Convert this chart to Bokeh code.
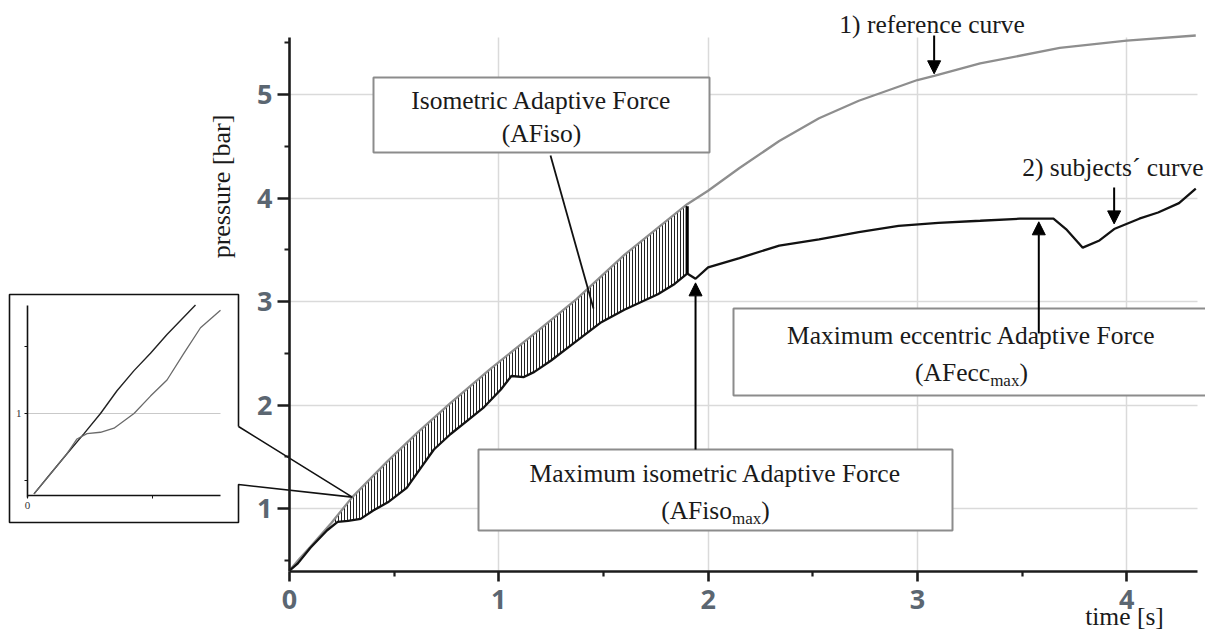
import math
from bokeh.plotting import figure
from bokeh.models import (Range1d, LinearAxis, FixedTicker, Grid, Arrow, NormalHead)
from bokeh.core.properties import value
from bokeh.embed import file_html
from bokeh.resources import INLINE

# ---------------- data ----------------
# 1) reference curve: time [s] / pressure [bar]
REF_T = [0.00, 0.05, 0.10, 0.20, 0.30, 0.47, 0.61, 0.77, 0.96, 1.17, 1.37, 1.60,
         1.90, 2.00, 2.15, 2.34, 2.53, 2.72, 3.00, 3.08, 3.30, 3.68, 4.00, 4.33]
REF_P = [0.40, 0.52, 0.63, 0.86, 1.11, 1.46, 1.73, 2.02, 2.35, 2.69, 3.02, 3.45,
         3.94, 4.07, 4.29, 4.55, 4.77, 4.94, 5.14, 5.18, 5.30, 5.45, 5.52, 5.57]

# 2) subjects' curve
SUB_T = [0.00, 0.04, 0.10, 0.18, 0.23, 0.28, 0.34, 0.40, 0.47, 0.56,
         0.63, 0.69, 0.77, 0.85, 0.93, 1.01, 1.06, 1.12, 1.17, 1.25,
         1.36, 1.49, 1.60, 1.76, 1.84, 1.90, 1.94, 2.00, 2.15, 2.34,
         2.53, 2.72, 2.91, 3.10, 3.30, 3.49, 3.58, 3.65, 3.71, 3.79,
         3.87, 3.94, 4.06, 4.15, 4.25, 4.33]
SUB_P = [0.40, 0.47, 0.62, 0.79, 0.87, 0.88, 0.90, 0.98, 1.06, 1.20,
         1.40, 1.57, 1.72, 1.85, 1.98, 2.15, 2.28, 2.27, 2.32, 2.43,
         2.60, 2.80, 2.92, 3.07, 3.17, 3.27, 3.22, 3.33, 3.42, 3.54,
         3.60, 3.67, 3.73, 3.76, 3.78, 3.80, 3.80, 3.80, 3.70, 3.52,
         3.59, 3.70, 3.80, 3.86, 3.95, 4.09]

X_TICKS = [0, 1, 2, 3, 4]
X_MINOR = [0.5, 1.5, 2.5, 3.5]
Y_TICKS = [1, 2, 3, 4, 5]
Y_MINOR = [0.5, 1.5, 2.5, 3.5, 4.5, 5.5]
X_GRID = [1, 2, 3, 4]
Y_GRID = [1, 2, 3, 4, 5]

T_HATCH_START = 0.20     # AFiso area starts
T_ISO_MAX = 1.90         # AFiso area ends (bold line)
T_ISO_ARROW = 1.94       # AFiso_max arrow
T_ECC_MAX = 3.58         # AFecc_max arrow
T_REF_ARROW = 3.08       # "1) reference curve" arrow
T_SUB_ARROW = 3.94       # "2) subjects´ curve" arrow
T_CALLOUT = 0.30         # point the inset callout points to

# inset (magnified start of the curves)
INSET_REF_T = [0.013, 0.046, 0.079, 0.113, 0.146, 0.179, 0.213, 0.246, 0.279, 0.336]
INSET_REF_P = [0.40, 0.55, 0.70, 0.85, 1.00, 1.17, 1.32, 1.45, 1.59, 1.81]
INSET_SUB_T = [0.013, 0.046, 0.079, 0.099, 0.119, 0.146, 0.173, 0.213, 0.246,
               0.279, 0.313, 0.346, 0.386]
INSET_SUB_P = [0.40, 0.55, 0.70, 0.81, 0.85, 0.86, 0.89, 1.00, 1.13,
               1.25, 1.45, 1.64, 1.77]
INSET_X_MAJOR = [0]
INSET_X_MINOR = [0.25]
INSET_Y_MAJOR = [1]
INSET_Y_MINOR = [0.5, 1.5]
INSET_GRID = [1]


def at(ts, ps, t):
    return ps[ts.index(t)]


# ---------------- layout (pixels of the reference picture) ----------------
W, H = 1205, 632
OFF = 0                      # Bokeh's page template has no body margin
X0_PX, SX = 289, 209.3       # pixel of t=0, pixels per second
Y5_PX, SY = 94, 103.5        # pixel of p=5, pixels per bar
IX0_PX, ISX = 27, 500.0      # inset
IY1_PX, ISY = 413, 134.0
FS, FS_SUB = 25.5, 17        # serif text sizes


def X(px):
    return (px - X0_PX) / SX


def Y(py):
    return 5 - (py - Y5_PX) / SY


def IX(px):
    return (px - IX0_PX) / ISX


def IY(py):
    return 1 + (IY1_PX - py) / ISY


X_END = X(1197)
Y_LO, Y_HI = Y(571), Y(37)

p = figure(width=W, height=H, output_backend="svg", toolbar_location=None,
           x_range=Range1d(X(OFF), X(OFF + W)), y_range=Range1d(Y(OFF + H), Y(OFF)),
           x_axis_type=None, y_axis_type=None, min_border=0)
p.min_border_left = p.min_border_right = p.min_border_top = p.min_border_bottom = 0
p.outline_line_color = None
p.background_fill_color = "white"
p.border_fill_color = "white"
p.extra_x_ranges = {"ix": Range1d(IX(OFF), IX(OFF + W))}
p.extra_y_ranges = {"iy": Range1d(IY(OFF + H), IY(OFF))}

GRID_COLOR = "#dadada"
has_cross = "cross_bounds" in Grid.properties()

# ---------------- grid ----------------
if has_cross:
    gx = Grid(dimension=0, ticker=FixedTicker(ticks=X_GRID), bounds=(0, X_END),
              cross_bounds=(Y_LO, Y_HI), grid_line_color=GRID_COLOR, grid_line_width=1.5)
    gy = Grid(dimension=1, ticker=FixedTicker(ticks=Y_GRID), bounds=(Y_LO, Y_HI),
              cross_bounds=(0, X_END), grid_line_color=GRID_COLOR, grid_line_width=1.5)
    p.add_layout(gx)
    p.add_layout(gy)
    ig = Grid(dimension=1, ticker=FixedTicker(ticks=INSET_GRID), x_range_name="ix",
              y_range_name="iy", bounds=(IY(497), IY(305)), cross_bounds=(0, IX(220)),
              grid_line_color="#c9c9c9", grid_line_width=1)
    p.add_layout(ig)
else:
    p.segment(x0=X_GRID, x1=X_GRID, y0=[Y_LO] * len(X_GRID), y1=[Y_HI] * len(X_GRID),
              line_color=GRID_COLOR, line_width=1.5)
    p.segment(x0=[0] * len(Y_GRID), x1=[X_END] * len(Y_GRID), y0=Y_GRID, y1=Y_GRID,
              line_color=GRID_COLOR, line_width=1.5)
    p.segment(x0=[0], x1=[IX(220)], y0=INSET_GRID, y1=INSET_GRID, line_color="#c9c9c9",
              line_width=1, x_range_name="ix", y_range_name="iy")

# ---------------- boxes ----------------
BOX_KW = dict(fill_color="white", line_color="#8c8c8c", line_width=2)
p.quad(left=[X(373)], right=[X(709)], top=[Y(77)], bottom=[Y(152)], **BOX_KW)
p.quad(left=[X(478)], right=[X(952)], top=[Y(449)], bottom=[Y(530)], **BOX_KW)
p.quad(left=[X(733)], right=[X(1240)], top=[Y(308)], bottom=[Y(395)], **BOX_KW)

# ---------------- hatched AFiso area ----------------
ref_seg = [(t, v) for t, v in zip(REF_T, REF_P) if T_HATCH_START <= t <= T_ISO_MAX]
sub_seg = [(t, v) for t, v in zip(SUB_T, SUB_P) if T_HATCH_START <= t <= T_ISO_MAX]
poly = ref_seg + list(reversed(sub_seg))
p.patch([a for a, _ in poly], [b for _, b in poly], fill_color="white",
        hatch_pattern="vertical_line", hatch_color="#222222", hatch_scale=3.0,
        hatch_weight=1.0, line_color=None)

# ---------------- curves ----------------
p.line(REF_T, REF_P, line_color="#8e8e8e", line_width=2.3)
p.line(SUB_T, SUB_P, line_color="#121212", line_width=2.3)

# bold AFiso_max line
p.segment(x0=[T_ISO_MAX], x1=[T_ISO_MAX], y0=[at(REF_T, REF_P, T_ISO_MAX) - 0.02],
          y1=[at(SUB_T, SUB_P, T_ISO_MAX)], line_color="black", line_width=3.2)

# pointer of the "Isometric Adaptive Force" box
p.line([X(550), X(593)], [Y(155), Y(308)], line_color="#111111", line_width=1.8)

# ---------------- inset ----------------
tip_x, tip_y = T_CALLOUT, at(REF_T, REF_P, T_CALLOUT)
p.line([X(238), X(238), X(9), X(9), X(238), X(238), tip_x, X(238)],
       [Y(426), Y(294), Y(294), Y(522), Y(522), Y(484), tip_y, Y(426)],
       line_color="#111111", line_width=1.6)
p.line(INSET_REF_T, INSET_REF_P, x_range_name="ix", y_range_name="iy",
       line_color="#222222", line_width=1.4)
p.line(INSET_SUB_T, INSET_SUB_P, x_range_name="ix", y_range_name="iy",
       line_color="#6a6a6a", line_width=1.3)

INSET_AX = dict(axis_line_color="#111111", axis_line_width=1.6,
                major_tick_line_color="#111111", minor_tick_line_color="#111111",
                major_tick_in=0, minor_tick_in=0, major_tick_out=3, minor_tick_out=3,
                major_label_text_font="Liberation Serif",
                major_label_text_font_size="11px", major_label_text_color="#333333",
                major_label_standoff=3)
iax = LinearAxis(x_range_name="ix", y_range_name="iy", fixed_location=IY(495),
                 bounds=(0, IX(220)),
                 ticker=FixedTicker(ticks=INSET_X_MAJOR, minor_ticks=INSET_X_MINOR),
                 **INSET_AX)
p.add_layout(iax, "below")
iay = LinearAxis(x_range_name="ix", y_range_name="iy", fixed_location=0,
                 bounds=(IY(497), IY(305)),
                 ticker=FixedTicker(ticks=INSET_Y_MAJOR, minor_ticks=INSET_Y_MINOR),
                 **INSET_AX)
p.add_layout(iay, "left")

# ---------------- main axes ----------------
AX = dict(axis_line_color="#1c1c1c", axis_line_width=2.6,
          major_tick_line_color="#1c1c1c", major_tick_line_width=2.6,
          minor_tick_line_color="#1c1c1c", minor_tick_line_width=2.2,
          major_tick_in=0, minor_tick_in=0, minor_tick_out=5,
          major_label_text_font="Noto Sans", major_label_text_font_style="bold",
          major_label_text_font_size="27px", major_label_text_color="#5b6671")
xa = LinearAxis(fixed_location=Y_LO, bounds=(0, X_END),
                ticker=FixedTicker(ticks=X_TICKS, minor_ticks=X_MINOR),
                major_tick_out=10, major_label_standoff=8, **AX)
p.add_layout(xa, "below")
ya = LinearAxis(fixed_location=0, bounds=(Y_LO, Y_HI),
                ticker=FixedTicker(ticks=Y_TICKS, minor_ticks=Y_MINOR),
                major_tick_out=12, major_label_standoff=5, **AX)
p.add_layout(ya, "left")

# ---------------- arrows ----------------
def arrow(x, y0, y1):
    p.add_layout(Arrow(end=NormalHead(size=13, fill_color="black", line_color="black"),
                       x_start=x, y_start=y0, x_end=x, y_end=y1,
                       line_color="black", line_width=2))


arrow(T_ISO_ARROW, Y(449), at(SUB_T, SUB_P, T_ISO_ARROW) - 0.04)
arrow(T_ECC_MAX, Y(333), at(SUB_T, SUB_P, T_ECC_MAX) - 0.03)
arrow(T_REF_ARROW, Y(35), at(REF_T, REF_P, T_REF_ARROW) + 0.02)
arrow(T_SUB_ARROW, Y(187), at(SUB_T, SUB_P, T_SUB_ARROW) + 0.05)

# ---------------- texts ----------------
SERIF = value("Liberation Serif")
TXT = dict(text_font=SERIF, text_font_size=f"{FS}px", text_color="#1a1a1a",
           text_baseline="middle")


def txt(x, y, s, align="center", **kw):
    d = dict(TXT)
    d.update(kw)
    p.text(x=[x], y=[y], text=[s], text_align=align, **d)


TIMES_W = {"(": .333, ")": .333, "A": .722, "F": .556, "i": .278, "s": .389,
           "o": .5, "e": .444, "c": .444, "m": .778, "a": .444, "x": .5}


def sub_text(x, y, main, sub):
    w_main = sum(TIMES_W[c] for c in main) * FS
    w_sub = sum(TIMES_W[c] for c in sub) * FS_SUB
    w_par = TIMES_W[")"] * FS
    start = -(w_main + w_sub + w_par) / 2
    txt(x, y, main, align="left", x_offset=start)
    txt(x, y, sub, align="left", x_offset=start + w_main, y_offset=8,
        text_font_size=f"{FS_SUB}px")
    txt(x, y, ")", align="left", x_offset=start + w_main + w_sub)


txt(X(541), Y(100), "Isometric Adaptive Force")
txt(X(541), Y(133), "(AFiso)")
txt(X(715), Y(473), "Maximum isometric Adaptive Force")
sub_text(X(715), Y(510), "(AFiso", "max")
txt(X(971), Y(335), "Maximum eccentric Adaptive Force")
sub_text(X(971), Y(372), "(AFecc", "max")
txt(T_REF_ARROW - 0.01, Y(24), "1) reference curve")
txt(X(1203), Y(167), "2) subjects\u00b4 curve", align="right")
txt(X(1124), Y(616), "time [s]")
txt(X(221), Y(186), "pressure [bar]", angle=math.pi / 2, text_font_size="26px")

open("out.html", "w").write(file_html(p, INLINE))
